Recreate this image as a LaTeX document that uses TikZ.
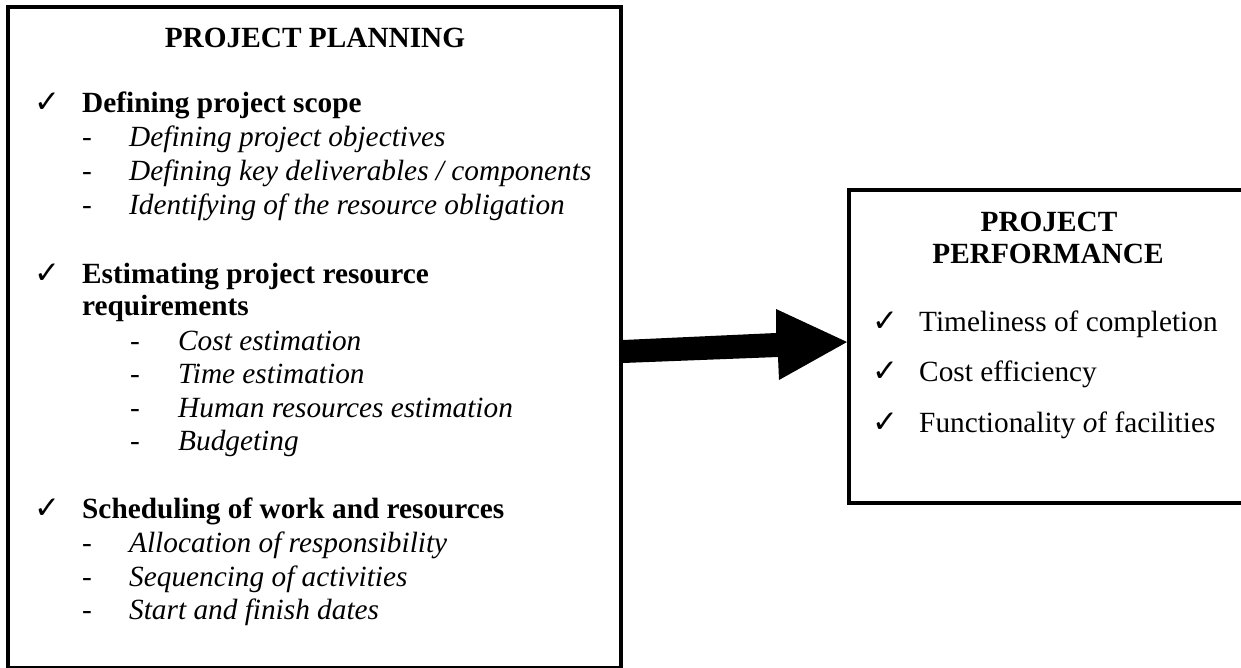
\documentclass[tikz,border=0pt]{standalone}
\usepackage{fontspec}
\setmainfont{Liberation Serif}
\newfontfamily\symfont{DejaVu Sans}
\usetikzlibrary{calc}
\begin{document}
\begin{tikzpicture}[x=1pt,y=-1pt,
  frame/.style={draw=black,line width=4pt,inner sep=0pt},
  txt/.style={anchor=base west,inner sep=0pt,font=\fontsize{29.3}{34}\selectfont},
  head/.style={anchor=base,inner sep=0pt,font=\fontsize{29.3}{34}\selectfont\bfseries},
  tick/.style={anchor=base west,inner sep=0pt,font=\symfont\fontsize{31}{34}\selectfont},
  itm/.style={txt,font=\fontsize{29.3}{34}\selectfont\bfseries},
  sub/.style={txt,font=\fontsize{29.3}{34}\selectfont\itshape}]
\useasboundingbox (0,0) rectangle (1241,668);
\clip (0,0) rectangle (1241,668);

% planning box
\node[frame,minimum width=613pt,minimum height=661pt] (planbox) at (314.5,337.5) {};
\node[head] (plantitle) at (315,48) {PROJECT PLANNING};

\node[tick] (t1) at (34,113) {✓};
\node[itm] (scope) at (82,113) {Defining project scope};
\node[txt] (d11) at (82,147) {-};
\node[sub] (s11) at (129,147) {Defining project objectives};
\node[txt] (d12) at (82,181) {-};
\node[sub] (s12) at (129,181) {Defining key deliverables / components};
\node[txt] (d13) at (82,215) {-};
\node[sub] (s13) at (129,215) {Identifying of the resource obligation};

\node[tick] (t2) at (34,283) {✓};
\node[itm] (estim) at (82,283) {Estimating project resource};
\node[itm] (estim2) at (82,315) {requirements};
\node[txt] (d21) at (130,350) {-};
\node[sub] (s21) at (178,350) {Cost estimation};
\node[txt] (d22) at (130,383) {-};
\node[sub] (s22) at (178,383) {Time estimation};
\node[txt] (d23) at (130,417) {-};
\node[sub] (s23) at (178,417) {Human resources estimation};
\node[txt] (d24) at (130,450) {-};
\node[sub] (s24) at (178,450) {Budgeting};

\node[tick] (t3) at (34,518) {✓};
\node[itm] (sched) at (82,518) {Scheduling of work and resources};
\node[txt] (d31) at (82,552) {-};
\node[sub] (s31) at (129,552) {Allocation of responsibility};
\node[txt] (d32) at (82,586) {-};
\node[sub] (s32) at (129,586) {Sequencing of activities};
\node[txt] (d33) at (82,619) {-};
\node[sub] (s33) at (129,619) {Start and finish dates};

% performance box (runs past the right edge)
\node[frame,minimum width=451pt,minimum height=313pt] (perfbox) at (1074.5,346.5) {};
\node[head] (perftitle1) at (1049,232) {PROJECT};
\node[head] (perftitle2) at (1048,263) {PERFORMANCE};
\node[tick] (p1) at (872,331) {✓};
\node[txt] (q1) at (919,331) {Timeliness of completion};
\node[tick] (p2) at (872,381) {✓};
\node[txt] (q2) at (919,381) {Cost efficiency};
\node[tick] (p3) at (872,432) {✓};
\node[txt] (q3) at (919,432) {Functionality \textit{o}f facilitie\textit{s}};

% block arrow between the boxes
\fill[black] (planbox.east |- 0,340) -- (776,333) -- (776,309)
  -- (perfbox.west |- 0,342) -- (779,380) -- (778,357)
  -- (planbox.east |- 0,363) -- cycle;
\end{tikzpicture}
\end{document}
